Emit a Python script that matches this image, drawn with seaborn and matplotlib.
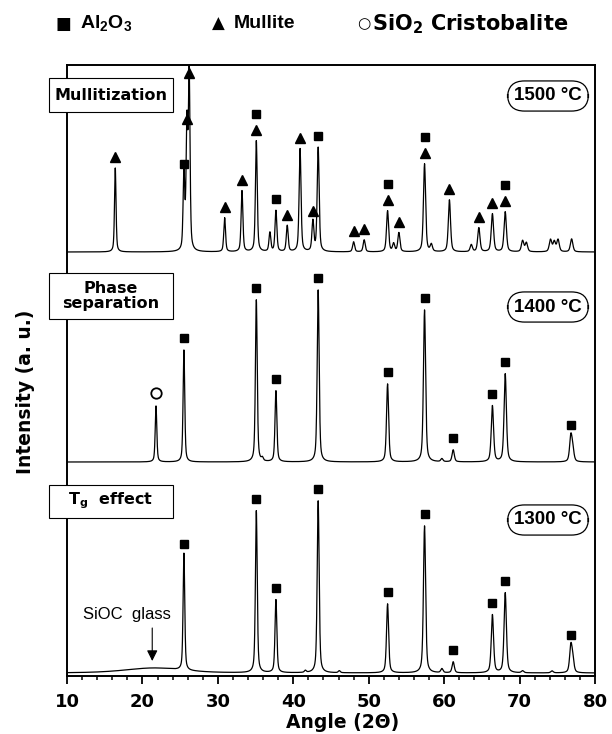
import numpy as np
import pandas as pd
import matplotlib.pyplot as plt
import seaborn as sns
from matplotlib.patches import Rectangle
from matplotlib.ticker import MultipleLocator

# ---------------------------------------------------------------
# Peak data (2theta, height in a.u.)
# ---------------------------------------------------------------
pos_1500 = [16.4, 25.5, 25.9, 26.2, 30.9, 33.2, 35.1, 36.9, 37.7, 39.2, 40.9,
            42.6, 43.3, 48.0, 49.4, 52.5, 53.3, 54.0, 57.4, 58.3, 60.7, 63.6,
            64.6, 66.4, 68.1, 70.4, 70.9, 74.1, 74.6, 75.1, 76.9]
hgt_1500 = [84, 76, 122, 174, 34, 61, 111, 19, 41, 26, 103,
            30, 104, 10, 12, 41, 8, 19, 88, 7, 52, 7,
            24, 38, 40, 11, 9, 12, 10, 12, 13]

pos_1400 = [21.8, 25.5, 35.1, 35.9, 37.7, 43.3, 52.5, 57.4, 59.7, 61.2,
            66.4, 68.1, 76.8, 77.05]
hgt_1400 = [56, 112, 162, 3, 71, 172, 78, 152, 3, 12,
            56, 88, 25, 11]

pos_1300 = [25.5, 35.1, 37.7, 41.6, 43.3, 46.1, 52.5, 57.4, 59.7, 61.2,
            66.4, 68.1, 70.4, 74.3, 76.8, 77.05]
hgt_1300 = [117, 162, 73, 2, 172, 2, 69, 147, 4, 11,
            58, 80, 2, 2, 26, 12]

# broad amorphous hump of the SiOC glass (1300 C)
glass_pos = [21.5]
glass_hgt = [5]
glass_fwhm = [9.0]

# phase markers (peak positions per sample)
al2o3_1500 = [25.5, 35.1, 37.7, 43.3, 52.5, 57.4, 68.1]
mullite_1500 = [16.4, 25.9, 26.2, 30.9, 33.2, 35.1, 39.2, 40.9, 42.6, 48.0,
                49.4, 52.5, 54.0, 57.4, 60.7, 64.6, 66.4, 68.1]
al2o3_1400 = [25.5, 35.1, 37.7, 43.3, 52.5, 57.4, 61.2, 66.4, 68.1, 76.8]
cristo_1400 = [21.8]
al2o3_1300 = [25.5, 35.1, 37.7, 43.3, 52.5, 57.4, 61.2, 66.4, 68.1, 76.8]

samples = ['1300 °C', '1400 °C', '1500 °C']
offsets = [3, 214, 424]
stage_labels = ['T$_\\mathregular{g}$  effect', 'Phase\nseparation', 'Mullitization']

W, H = 612, 734
two_theta = np.arange(10, 80.001, 0.02)


def profile(pos, hgt, fwhm=None):
    y = np.zeros_like(two_theta)
    for i, (p, h) in enumerate(zip(pos, hgt)):
        w = fwhm[i] if fwhm else 0.22 * (1 + (p - 10) / 70 * 0.8)
        u = (two_theta - p) / (w / 2)
        y += h * (0.5 / (1 + u ** 2) + 0.5 * np.exp(-np.log(2) * u ** 2))
    return y


curves = {
    '1300 °C': profile(pos_1300, hgt_1300) + profile(glass_pos, glass_hgt, glass_fwhm),
    '1400 °C': profile(pos_1400, hgt_1400),
    '1500 °C': profile(pos_1500, hgt_1500),
}
peaks = {'1300 °C': (pos_1300, hgt_1300), '1400 °C': (pos_1400, hgt_1400),
         '1500 °C': (pos_1500, hgt_1500)}

frames = []
for s, off in zip(samples, offsets):
    frames.append(pd.DataFrame({'angle': two_theta, 'intensity': curves[s] + off, 'sample': s}))
df = pd.concat(frames, ignore_index=True)

sns.set_style('white')
plt.rcParams['font.family'] = ['Liberation Sans', 'DejaVu Sans']
plt.rcParams['text.color'] = 'black'
plt.rcParams['xtick.color'] = 'black'
plt.rcParams['axes.edgecolor'] = 'black'
BOLD = dict(family='DejaVu Sans', fontweight='bold')

fig = plt.figure(figsize=(W / 100, H / 100), dpi=100)
ax = fig.add_axes([67 / W, 1 - 676 / H, (595 - 67) / W, (676 - 65) / H])

sns.lineplot(data=df, x='angle', y='intensity', hue='sample', units='sample',
             estimator=None, sort=False, palette=['black'] * 3, lw=0.9,
             legend=False, ax=ax)


def top_of(sample, x):
    pos, hgt = peaks[sample]
    i = int(np.argmin(np.abs(np.array(pos) - x)))
    return hgt[i] + offsets[samples.index(sample)]


mk = dict(color='black', clip_on=False, zorder=5, linestyle='none')
# 1500: triangles, squares on top of the triangles where both phases coincide
for x in mullite_1500:
    ax.plot(x, min(top_of('1500 °C', x) + 11, 603), marker='^', markersize=7.5, **mk)
for x in al2o3_1500:
    dy = 27 if x in mullite_1500 else 12
    ax.plot(x, top_of('1500 °C', x) + dy, marker='s', markersize=6.3, **mk)
for x in al2o3_1400:
    ax.plot(x, top_of('1400 °C', x) + 12, marker='s', markersize=6.3, **mk)
for x in cristo_1400:
    ax.plot(x, top_of('1400 °C', x) + 13, marker='o', markersize=7.5,
            markerfacecolor='white', markeredgewidth=1.3, **mk)
for x in al2o3_1300:
    ax.plot(x, top_of('1300 °C', x) + 12, marker='s', markersize=6.3, **mk)

ax.set_xlim(10, 80)
ax.set_ylim(0, 611)
ax.set_yticks([])
ax.xaxis.set_major_locator(MultipleLocator(10))
ax.xaxis.set_minor_locator(MultipleLocator(2))
ax.tick_params(axis='x', which='major', direction='out', length=6, width=1.3,
               labelsize=13, pad=6, bottom=True, colors='black')
ax.tick_params(axis='x', which='minor', direction='out', length=3, width=1.1,
               bottom=True, colors='black')
for lab in ax.get_xticklabels():
    lab.set_fontweight('bold')
    lab.set_family('DejaVu Sans')
for sp in ax.spines.values():
    sp.set_linewidth(1.4)
    sp.set_color('black')
ax.set_xlabel('')
ax.set_ylabel('')

fig.text(343 / W, 1 - 722 / H, 'Angle (2Θ)', ha='center', va='center',
         fontsize=13.5, **BOLD)
fig.text(26 / W, 1 - 392 / H, 'Intensity (a. u.)', ha='center', va='center',
         rotation=90, fontsize=13.5, **BOLD)

# stage boxes on the left and temperature ovals on the right
stage_y = [501, 296, 95]
temp_y = [520, 307, 96]
stage_h = [33, 46, 34]
for lab, sy, sh, s, ty in zip(stage_labels, stage_y, stage_h, samples, temp_y):
    fig.add_artist(Rectangle((49 / W, 1 - (sy + sh / 2) / H), 124 / W, sh / H,
                             transform=fig.transFigure, facecolor='white',
                             edgecolor='black', lw=0.8, zorder=10))
    fig.text(111 / W, 1 - sy / H, lab, ha='center', va='center', fontsize=11.5,
             linespacing=1.0, zorder=11, **BOLD)
    fig.text(548 / W, 1 - ty / H, s, ha='center', va='center', fontsize=13.5,
             fontweight='bold', zorder=11,
             bbox=dict(boxstyle='round,pad=0.35,rounding_size=0.9', fc='white',
                       ec='black', lw=0.9))

ax.text(17.9, 61, 'SiOC  glass', ha='center', va='center', fontsize=12)
ax.annotate('', xy=(21.3, 15), xytext=(21.3, 48),
            arrowprops=dict(arrowstyle='-|>', color='black', lw=0.8,
                            mutation_scale=16, shrinkA=0, shrinkB=0))

# phase legend on top
ly = 1 - 24 / H
fig.text(63 / W, ly, '■', ha='center', va='center', fontsize=12, family='DejaVu Sans')
fig.text(80 / W, ly, 'Al$_\\mathregular{2}$O$_\\mathregular{3}$',
         ha='left', va='center', fontsize=14, fontweight='bold')
fig.text(218 / W, ly, '▲', ha='center', va='center', fontsize=12, family='DejaVu Sans')
fig.text(234 / W, ly, 'Mullite', ha='left', va='center', fontsize=14,
         fontweight='bold')
fig.text(364 / W, ly, '○', ha='center', va='center', fontsize=11, family='DejaVu Sans')
fig.text(372 / W, ly, 'SiO$_\\mathregular{2}$ Cristobalite', ha='left',
         va='center', fontsize=15, **BOLD)

fig.savefig('out.png', dpi=100)
